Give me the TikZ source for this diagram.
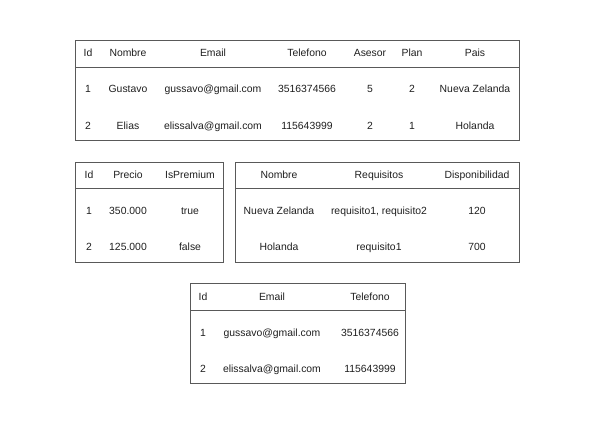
\documentclass[tikz,border=0pt]{standalone}
\usepackage{fontspec}
\setmainfont{Liberation Sans}
\begin{document}
\begin{tikzpicture}[x=1bp,y=-1bp,
  tbl/.style={draw=black!65,line width=0.9bp},
  hline/.style={draw=black!65,line width=0.9bp},
  cell/.style={inner sep=0pt,text height=7.5bp,text depth=0bp,font=\fontsize{10.4bp}{12bp}\selectfont,text=black!88}]
\useasboundingbox (0,0) rectangle (595,424);
% Table 1
\draw[tbl] (75,40) rectangle (519,140);
\draw[hline] (75,67) -- (519,67);
\foreach \x/\t [count=\i] in {88/Id,128/Nombre,213/Email,307/Telefono,370/Asesor,412/Plan,475/Pais}
  \node[cell] (a-h\i) at (\x,53) {\t};
\foreach \x/\t [count=\i] in {88/1,128/Gustavo,213/gussavo@gmail.com,307/3516374566,370/5,412/2,475/Nueva Zelanda}
  \node[cell] (a-r1\i) at (\x,89) {\t};
\foreach \x/\t [count=\i] in {88/2,128/Elias,213/elissalva@gmail.com,307/115643999,370/2,412/1,475/Holanda}
  \node[cell] (a-r2\i) at (\x,126) {\t};
% Table 2
\draw[tbl] (75,162) rectangle (223,262);
\draw[hline] (75,188) -- (223,188);
\foreach \x/\t [count=\i] in {89/Id,128/Precio,190/IsPremium}
  \node[cell] (b-h\i) at (\x,175) {\t};
\foreach \x/\t [count=\i] in {89/1,128/350.000,190/true}
  \node[cell] (b-r1\i) at (\x,211) {\t};
\foreach \x/\t [count=\i] in {89/2,128/125.000,190/false}
  \node[cell] (b-r2\i) at (\x,247) {\t};
% Table 3
\draw[tbl] (235,162) rectangle (519,262);
\draw[hline] (235,188) -- (519,188);
\foreach \x/\t [count=\i] in {279/Nombre,379/Requisitos,477/Disponibilidad}
  \node[cell] (c-h\i) at (\x,175) {\t};
\foreach \x/\t [count=\i] in {279/Nueva Zelanda,379/{requisito1, requisito2},477/120}
  \node[cell] (c-r1\i) at (\x,211) {\t};
\foreach \x/\t [count=\i] in {279/Holanda,379/requisito1,477/700}
  \node[cell] (c-r2\i) at (\x,247) {\t};
% Table 4
\draw[tbl] (190,283) rectangle (405,383);
\draw[hline] (190,310) -- (405,310);
\foreach \x/\t [count=\i] in {203/Id,272/Email,370/Telefono}
  \node[cell] (d-h\i) at (\x,297) {\t};
\foreach \x/\t [count=\i] in {203/1,272/gussavo@gmail.com,370/3516374566}
  \node[cell] (d-r1\i) at (\x,333) {\t};
\foreach \x/\t [count=\i] in {203/2,272/elissalva@gmail.com,370/115643999}
  \node[cell] (d-r2\i) at (\x,369) {\t};
\end{tikzpicture}
\end{document}
